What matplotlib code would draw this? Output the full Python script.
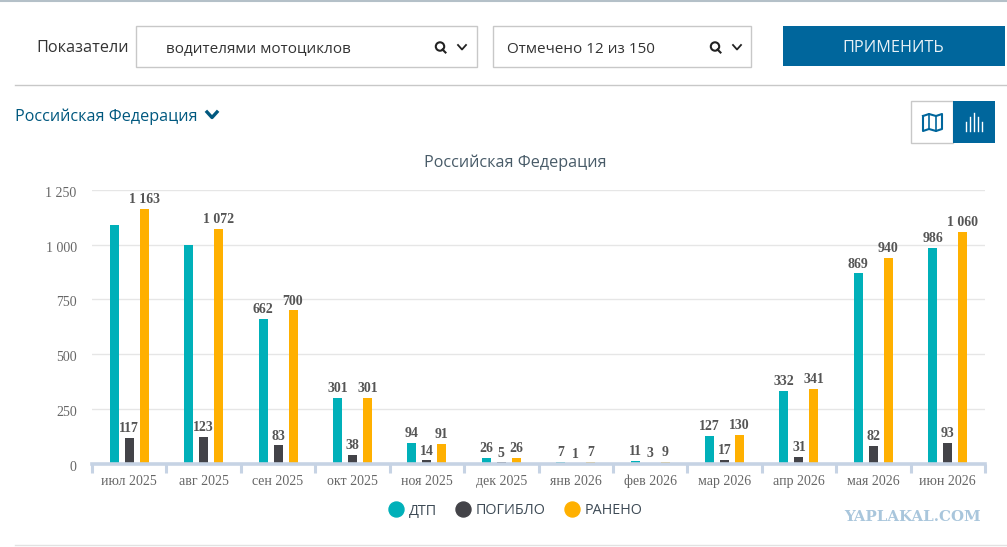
import numpy as np
import matplotlib
matplotlib.use('Agg')
import matplotlib.pyplot as plt
from matplotlib.lines import Line2D
from matplotlib.patches import Rectangle, Circle
from matplotlib.transforms import ScaledTranslation

months = ['июл 2025', 'авг 2025', 'сен 2025', 'окт 2025', 'ноя 2025', 'дек 2025',
          'янв 2026', 'фев 2026', 'мар 2026', 'апр 2026', 'мая 2026', 'июн 2026']
dtp = [1090, 1000, 662, 301, 94, 26, 7, 11, 127, 332, 869, 986]
dead = [117, 123, 83, 38, 14, 5, 1, 3, 17, 31, 82, 93]
injured = [1163, 1072, 700, 301, 91, 26, 7, 9, 130, 341, 940, 1060]
# подписи над столбцами ДТП есть не везде (июл и авг на картинке без подписи)
dtp_labeled = [False, False] + [True] * 10
y_ticks = [0, 250, 500, 750, 1000, 1250]

W, H = 1007, 547
TEAL, DARK, ORANGE = '#00b0b9', '#434348', '#ffb000'
BLUE = '#00669c'
SERIF = 'Liberation Serif'
SANS = 'Open Sans'


def fmt(v):
    return f'{v:,}'.replace(',', ' ')


fig = plt.figure(figsize=(W / 100, H / 100), dpi=100, facecolor='white')

# шапка страницы, координаты в пикселях
ui = fig.add_axes([0, 0, 1, 1], zorder=0)
ui.set_xlim(0, W)
ui.set_ylim(H, 0)
ui.axis('off')

ui.plot([0, W], [0.5, 0.5], color='#b4c0c8', lw=1.5)
ui.plot([15, W], [85, 85], color='#c8c8c8', lw=1)
ui.plot([15, W], [545, 545], color='#e2e2e2', lw=1)

ui.text(36, 48.5, 'Показатели', fontsize=11.7, family=SANS, color='#333333', va='center')
for x0, x1 in [(136, 477), (493, 751)]:
    ui.add_patch(Rectangle((x0, 26), x1 - x0, 41, fc='white', ec='#c8c8c8', lw=1))
ui.text(166, 49.5, 'водителями мотоциклов', fontsize=11, family=SANS, color='#333333', va='center')
ui.text(507, 49.5, 'Отмечено 12 из 150', fontsize=11, family=SANS, color='#333333', va='center')

# лупа и стрелка вниз
for sx, ax_ in [(440, 462), (715, 737)]:
    ui.add_patch(Circle((sx, 46.5), 4.2, fc='none', ec='#222222', lw=1.5))
    ui.plot([sx + 2.5, sx + 5.5], [49.5, 52.5], color='#222222', lw=1.5)
    ui.plot([ax_ - 4, ax_, ax_ + 4], [45, 49.5, 45], color='#222222', lw=1.3)

ui.add_patch(Rectangle((783, 26), 222, 40, fc=BLUE, ec='none'))
ui.text(893.5, 48, 'ПРИМЕНИТЬ', fontsize=11.7, family=SANS, color='#e8f1f6', ha='center', va='center')

ui.text(15, 117, 'Российская Федерация', fontsize=11.6, family=SANS, color='#00587f', va='center')
ui.plot([207, 212, 217], [112, 117.5, 112], color='#00587f', lw=2.4)

# переключатель карта / диаграмма
ui.add_patch(Rectangle((911, 101), 42, 42, fc='white', ec='#c8c8c8', lw=1))
ui.add_patch(Rectangle((953, 101), 42, 42, fc=BLUE, ec='none'))
ui.plot([923, 929, 936, 942, 942, 936, 929, 923, 923],
        [116, 114, 116, 114, 129, 131, 129, 131, 116], color=BLUE, lw=1.5)
ui.plot([929, 929], [114, 129], color=BLUE, lw=1.2)
ui.plot([936, 936], [116, 131], color=BLUE, lw=1.2)
for bx, top in zip([966, 970, 974, 978, 982], [122, 117, 113, 117, 122]):
    ui.plot([bx, bx], [top, 131], color='white', lw=1)

ui.text(515, 163, 'Российская Федерация', fontsize=11.65, family=SANS, color='#485b68',
        ha='center', va='center')
ui.text(912.5, 517, 'YAPLAKAL.COM', fontsize=10.8, family='DejaVu Serif', weight='bold',
        color='#a9c6dc', ha='center', va='center')

# сама диаграмма
left, right, top, bottom = 92, 985, 190, 463.5
ax = fig.add_axes([left / W, 1 - bottom / H, (right - left) / W, (bottom - top) / H], zorder=1)
ax.patch.set_alpha(0)

x = np.arange(len(months))
step = 15 / 74.4
width = 9 / 74.4
series = [(dtp, TEAL, -step), (dead, DARK, 0), (injured, ORANGE, step)]
for values, color, shift in series:
    bars = ax.bar(x + shift, values, width, color=color, zorder=2)
    for i, (b, v) in enumerate(zip(bars, values)):
        if values is dtp and not dtp_labeled[i]:
            continue
        ax.annotate(fmt(v), (b.get_x() + b.get_width() / 2, v), xytext=(0, 2),
                    textcoords='offset points', ha='center', va='bottom',
                    fontsize=10, family=SERIF, weight='bold', color='#555555', zorder=3)

ax.set_xlim(-0.5, len(months) - 0.5)
ax.set_ylim(0, 1250)
ax.set_yticks(y_ticks)
ax.set_yticklabels([fmt(v) for v in y_ticks], fontsize=10, family=SERIF, color='#666666')
ax.set_xticks(x)
ax.set_xticklabels(months, fontsize=10, family=SERIF, color='#666666')
ax.set_xticks(np.arange(len(months) + 1) - 0.5, minor=True)
ax.tick_params(axis='y', length=0, pad=11)
ax.tick_params(axis='x', which='major', length=0, pad=8)
ax.tick_params(axis='x', which='minor', length=6.5, width=2.2, color='#c6d3e4')
# подписи оси Y в оригинале чуть ниже линий сетки
for lab in ax.get_yticklabels():
    lab.set_transform(lab.get_transform() + ScaledTranslation(0, -1.5 / 72, fig.dpi_scale_trans))
ax.grid(axis='y', color='#e6e6e6', lw=1, zorder=0)
ax.set_axisbelow(True)
for side in ['top', 'right', 'left']:
    ax.spines[side].set_visible(False)
ax.spines['bottom'].set_color('#c6d3e4')
ax.spines['bottom'].set_linewidth(2.6)
ax.spines['bottom'].set_zorder(4)

handles = [Line2D([], [], ls='', marker='o', ms=10.8, color=c) for c in (TEAL, DARK, ORANGE)]
ax.legend(handles, ['ДТП', 'ПОГИБЛО', 'РАНЕНО'], ncol=3, frameon=False, loc='center',
          bbox_to_anchor=((514 - left) / (right - left), -(511 - bottom) / (bottom - top)),
          prop={'family': SANS, 'size': 10.4}, labelcolor='#3d4a55',
          handletextpad=0.1, columnspacing=1.1, handlelength=1.5, borderpad=0)

fig.savefig('out.png', dpi=100)
